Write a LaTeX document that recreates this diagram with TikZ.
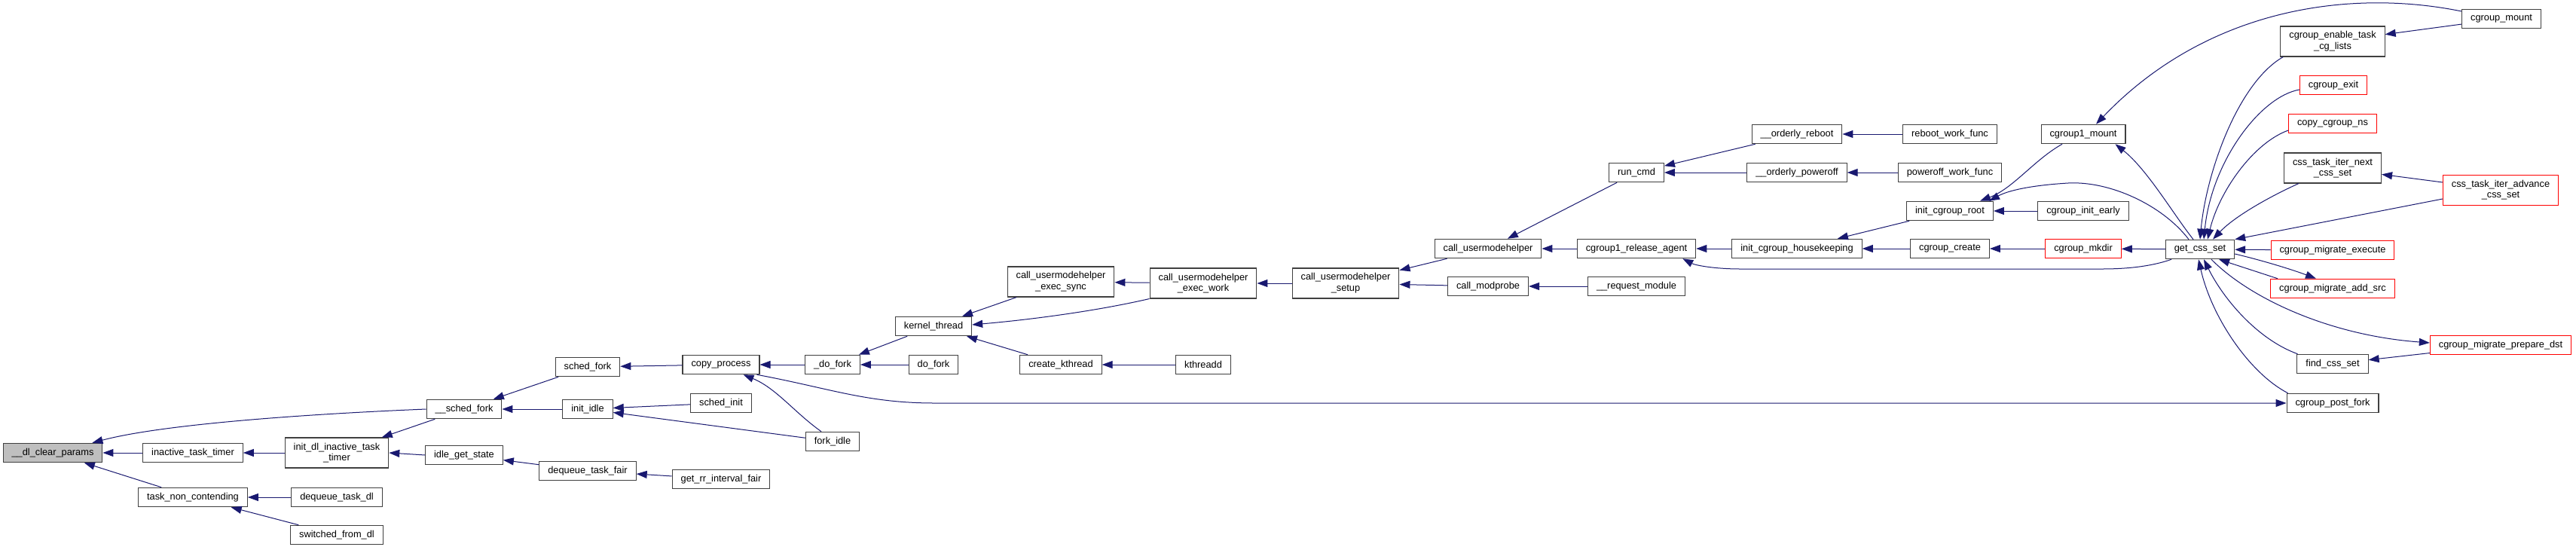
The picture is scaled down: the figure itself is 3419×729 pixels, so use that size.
\documentclass[tikz,border=0pt]{standalone}
\usepackage{fontspec}
\setmainfont{Liberation Sans}
\usetikzlibrary{arrows.meta}
\definecolor{edgeblue}{HTML}{191970}
\definecolor{nodegray}{HTML}{BFBFBF}
\begin{document}
\begin{tikzpicture}[x=1pt,y=-1pt,
  fn/.style={draw=black!75, line width=1.05pt, inner xsep=11.5pt, inner ysep=0pt,
    minimum height=25.5pt, align=center, font=\fontsize{12.8}{14.7}\selectfont},
  fntwo/.style={fn, minimum height=40pt},
  trunc/.style={draw=red, line width=1.0pt},
  edge/.style={draw=edgeblue, line width=1.0pt, -{Triangle[length=14pt,width=10pt]}}]
\path[use as bounding box, fill=white] (0,0) rectangle (3419,729);

% nodes
\node[fn, fill=nodegray] (dcp) at (70,601) {\_\_dl\_clear\_params};
\node[fn] (itt) at (256,601) {inactive\_task\_timer};
\node[fn] (tnc) at (256,660) {task\_non\_contending};
\node[fntwo] (idl) at (447,601) {init\_dl\_inactive\_task\\\_timer};
\node[fn] (dtd) at (447,660) {dequeue\_task\_dl};
\node[fn] (sfd) at (447,710) {switched\_from\_dl};
\node[fn] (usf) at (616,543) {\_\_sched\_fork};
\node[fn] (igs) at (616,604) {idle\_get\_state};
\node[fn] (sf) at (780,487) {sched\_fork};
\node[fn] (ii) at (780,543) {init\_idle};
\node[fn] (dtf) at (780,625) {dequeue\_task\_fair};
\node[fn] (cp) at (957,484) {copy\_process};
\node[fn] (si) at (957,535) {sched\_init};
\node[fn] (fi) at (1105,586) {fork\_idle};
\node[fn] (grif) at (957,636) {get\_rr\_interval\_fair};
\node[fn] (udf) at (1105,484) {\_do\_fork};
\node[fn] (kt) at (1239,433) {kernel\_thread};
\node[fn] (df) at (1239,484) {do\_fork};
\node[fntwo] (ces) at (1408,374) {call\_usermodehelper\\\_exec\_sync};
\node[fn] (ck) at (1408,484) {create\_kthread};
\node[fntwo] (cew) at (1597,376) {call\_usermodehelper\\\_exec\_work};
\node[fn] (kd) at (1597,484) {kthreadd};
\node[fntwo] (cus) at (1786,376) {call\_usermodehelper\\\_setup};
\node[fn] (cu) at (1975,330) {call\_usermodehelper};
\node[fn] (cm) at (1975,380) {call\_modprobe};
\node[fn] (rc) at (2172,229) {run\_cmd};
\node[fn] (cra) at (2172,330) {cgroup1\_release\_agent};
\node[fn] (rm) at (2172,380) {\_\_request\_module};
\node[fn] (orb) at (2385,178) {\_\_orderly\_reboot};
\node[fn] (opo) at (2385,229) {\_\_orderly\_poweroff};
\node[fn] (ich) at (2385,330) {init\_cgroup\_housekeeping};
\node[fn] (rwf) at (2588,178) {reboot\_work\_func};
\node[fn] (pwf) at (2588,229) {poweroff\_work\_func};
\node[fn] (icr) at (2588,280) {init\_cgroup\_root};
\node[fn] (cc) at (2588,330) {cgroup\_create};
\node[fn] (c1m) at (2765,178) {cgroup1\_mount};
\node[fn] (cie) at (2765,280) {cgroup\_init\_early};
\node[fn, trunc] (cmk) at (2765,330) {cgroup\_mkdir};
\node[fn] (gcs) at (2920,331) {get\_css\_set};
\node[fn] (cgm) at (3320,25) {cgroup\_mount};
\node[fntwo] (ete) at (3096,55) {cgroup\_enable\_task\\\_cg\_lists};
\node[fn, trunc] (cex) at (3097,113) {cgroup\_exit};
\node[fn, trunc] (ccn) at (3096,164) {copy\_cgroup\_ns};
\node[fntwo] (ctn) at (3096,223) {css\_task\_iter\_next\\\_css\_set};
\node[fntwo, trunc] (cta) at (3319,252) {css\_task\_iter\_advance\\\_css\_set};
\node[fn, trunc] (cme) at (3096,332) {cgroup\_migrate\_execute};
\node[fn, trunc] (cas) at (3096,383) {cgroup\_migrate\_add\_src};
\node[fn, trunc] (cpd) at (3319,458) {cgroup\_migrate\_prepare\_dst};
\node[fn] (fcs) at (3096,483) {find\_css\_set};
\node[fn] (cpf) at (3096,535) {cgroup\_post\_fork};

% edges
\draw[edge] (itt) -- (dcp);
\draw[edge] (tnc) -- (dcp);
\draw[edge] (usf.west) .. controls (420,549) and (220,562) .. ([xshift=-14pt]dcp.north east);
\draw[edge] (idl) -- (itt);
\draw[edge] (dtd) -- (tnc);
\draw[edge] (sfd) -- (tnc);
\draw[edge] (usf) -- (idl);
\draw[edge] (igs.west) -- (idl.east);
\draw[edge] (sf) -- (usf);
\draw[edge] (ii) -- (usf);
\draw[edge] (dtf) -- (igs);
\draw[edge] (cp) -- (sf);
\draw[edge] (si) -- (ii);
\draw[edge] (fi) -- (ii);
\draw[edge] (grif) -- (dtf);
\draw[edge] (udf) -- (cp);
\draw[edge] ([xshift=-15pt]fi.north) .. controls (1055,548) and (1030,515) .. ([xshift=-22pt]cp.south east);
\draw[edge] ([xshift=-4pt]cp.south east) .. controls (1100,515) and (1150,535) .. (1240,535) -- (cpf.west);
\draw[edge] (kt) -- (udf);
\draw[edge] (df) -- (udf);
\draw[edge] (ces) -- (kt);
\draw[edge] (cew) -- (ces);
\draw[edge] (cew.south west) .. controls (1450,414) and (1360,425) .. ([yshift=2pt]kt.east);
\draw[edge] (ck) -- (kt);
\draw[edge] (kd) -- (ck);
\draw[edge] (cus) -- (cew);
\draw[edge] (cu) -- (cus);
\draw[edge] (cm) -- (cus);
\draw[edge] (rc) -- (cu);
\draw[edge] (cra) -- (cu);
\draw[edge] (rm) -- (cm);
\draw[edge] (orb) -- (rc);
\draw[edge] (opo) -- (rc);
\draw[edge] (rwf) -- (orb);
\draw[edge] (pwf) -- (opo);
\draw[edge] (ich) -- (cra);
\draw[edge] (icr) -- (ich);
\draw[edge] (cc) -- (ich);
\draw[edge] (cmk) -- (cc);
\draw[edge] (cie) -- (icr);
\draw[edge] ([xshift=-28pt]c1m.south) .. controls (2700,212) and (2672,250) .. ([xshift=40pt]icr.north);
\draw[edge] ([xshift=-15pt]gcs.north) .. controls (2870,272) and (2800,240) .. (2745,243) .. controls (2695,246) and (2665,253) .. ([xshift=52pt]icr.north);
\draw[edge] ([xshift=-9pt]gcs.north) .. controls (2885,285) and (2850,225) .. ([xshift=-14pt]c1m.south east);
\draw[edge] (gcs) -- (cmk);
\draw[edge] ([xshift=-38pt]gcs.south) .. controls (2860,352) and (2830,357) .. (2790,357) -- (2310,357) .. controls (2275,357) and (2250,352) .. ([xshift=-18pt]cra.south east);
\draw[edge] ([yshift=10pt]cgm.west) .. controls (3120,-15) and (2930,10) .. ([xshift=17pt]c1m.north);
\draw[edge] (cgm) -- (ete);
\draw[edge] ([xshift=4pt]ete.south west) .. controls (2970,110) and (2928,230) .. (gcs.north);
\draw[edge] ([yshift=-6pt]cex.west) .. controls (3000,128) and (2935,215) .. ([xshift=5pt]gcs.north);
\draw[edge] ([yshift=-9pt]ccn.west) .. controls (2990,190) and (2945,255) .. ([xshift=10pt]gcs.north);
\draw[edge] ([xshift=-45pt]ctn.south) .. controls (3010,262) and (2965,288) .. ([xshift=17pt]gcs.north);
\draw[edge] (cta) -- (ctn);
\draw[edge] ([yshift=-12pt]cta.west) -- (gcs.north east);
\draw[edge] (cme) -- (gcs);
\draw[edge] ([yshift=-6pt]gcs.east) .. controls (3000,345) and (3040,357) .. ([xshift=-22pt]cas.north);
\draw[edge] ([xshift=-73pt]cas.north) -- ([xshift=25pt]gcs.south);
\draw[edge] ([xshift=15pt]gcs.south) .. controls (2985,395) and (3090,445) .. ([yshift=3pt]cpd.west);
\draw[edge] (cpd) -- (fcs);
\draw[edge] ([xshift=1pt]fcs.north west) .. controls (2995,450) and (2950,395) .. ([xshift=5pt]gcs.south);
\draw[edge] ([xshift=2pt]cpf.north west) .. controls (2985,495) and (2935,420) .. ([xshift=-2pt]gcs.south);
\end{tikzpicture}
\end{document}
